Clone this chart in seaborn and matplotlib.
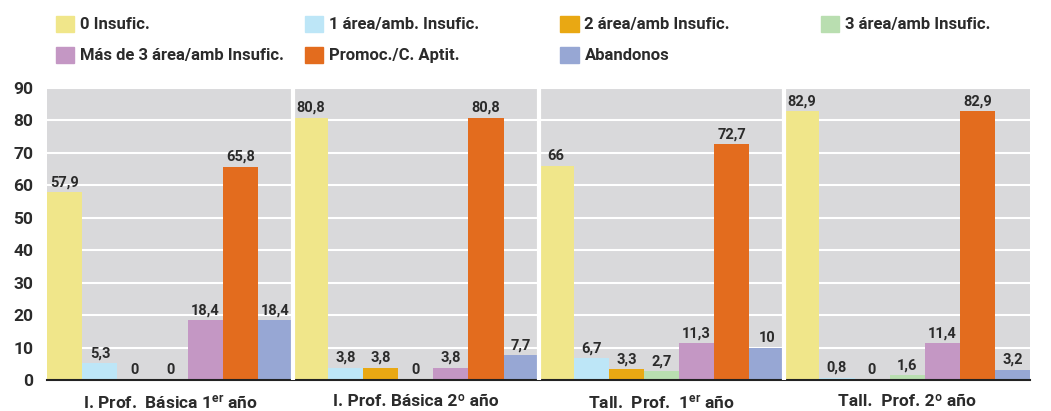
import matplotlib
matplotlib.use("Agg")
import matplotlib.pyplot as plt
import matplotlib.patches as mpatches
import seaborn as sns
import pandas as pd

# datos
grupos = ["I. Prof.  Básica 1$^{\\mathregular{er}}$ año", "I. Prof. Básica 2º año",
          "Tall.  Prof.  1$^{\\mathregular{er}}$ año", "Tall.  Prof. 2º año"]
series = ["0 Insufic.", "1 área/amb. Insufic.", "2 área/amb Insufic.", "3 área/amb Insufic.",
          "Más de 3 área/amb Insufic.", "Promoc./C. Aptit.", "Abandonos"]
colores = ["#f0e68a", "#bde6f7", "#e9a813", "#b9deb0", "#c497c4", "#e36c1e", "#97a7d4"]
valores = [
    [57.9, 5.3, 0, 0, 18.4, 65.8, 18.4],
    [80.8, 3.8, 3.8, 0, 3.8, 80.8, 7.7],
    [66, 6.7, 3.3, 2.7, 11.3, 72.7, 10],
    [82.9, 0.8, 0, 1.6, 11.4, 82.9, 3.2],
]
yticks = [0, 10, 20, 30, 40, 50, 60, 70, 80, 90]

filas = []
for g, vals in zip(grupos, valores):
    for s, v in zip(series, vals):
        filas.append({"grupo": g, "serie": s, "valor": v})
df = pd.DataFrame(filas)

sns.set_theme(style="white")
plt.rcParams["font.family"] = ["Roboto", "DejaVu Sans"]
plt.rcParams["font.weight"] = "bold"
plt.rcParams["mathtext.default"] = "regular"
texto = "#2b2b2b"

fig = plt.figure(figsize=(10.51, 4.11), dpi=100)
ax = fig.add_axes([0.045, 0.075, 0.935, 0.711])
ax.set_facecolor("#d9d9db")

sns.barplot(data=df, x="grupo", y="valor", hue="serie", palette=colores,
            width=1.0, gap=0, dodge=True, legend=False, ax=ax, saturation=1,
            linewidth=0)

for cont in ax.containers:
    ax.bar_label(cont, fmt=lambda v: f"{v:g}".replace(".", ","), padding=2,
                 fontsize=10.5, fontweight="bold", color=texto)

ax.set_xlim(-0.5, 3.5)
ax.set_ylim(0, 90)
ax.set_yticks(yticks)
ax.yaxis.grid(True, color="white", linewidth=1.5)
ax.set_axisbelow(True)
for xs in [0.5, 1.5, 2.5]:
    ax.axvline(xs, color="white", linewidth=3, zorder=5)

for s in ["top", "right", "left"]:
    ax.spines[s].set_visible(False)
ax.spines["bottom"].set_color("#222222")
ax.spines["bottom"].set_linewidth(1.5)
ax.set_xticks([-0.5, 0.5, 1.5, 2.5, 3.5], minor=True)
ax.tick_params(axis="x", which="minor", length=3, width=2, color="#222222")
ax.tick_params(axis="x", which="major", length=0, pad=10, labelsize=12.5, labelcolor=texto)
ax.tick_params(axis="y", length=0, pad=10, labelsize=12.5, labelcolor=texto)
for lab in ax.get_xticklabels() + ax.get_yticklabels():
    lab.set_fontweight("bold")
ax.set_xlabel("")
ax.set_ylabel("")

# leyenda en 4 columnas, fila a fila
cols_x = [0.042, 0.279, 0.522, 0.770]
for c in range(4):
    idx = [i for i in (c, c + 4) if i < len(series)]
    handles = [mpatches.Patch(color=colores[i], label=series[i]) for i in idx]
    fig.legend(handles=handles, loc="upper left", bbox_to_anchor=(cols_x[c], 0.99),
               frameon=False, handlelength=1.1, handleheight=1.1,
               handletextpad=0.35, labelspacing=0.85, borderaxespad=0.3,
               prop={"weight": "bold", "size": 12}, labelcolor=texto)

fig.savefig("out.png", dpi=100)
